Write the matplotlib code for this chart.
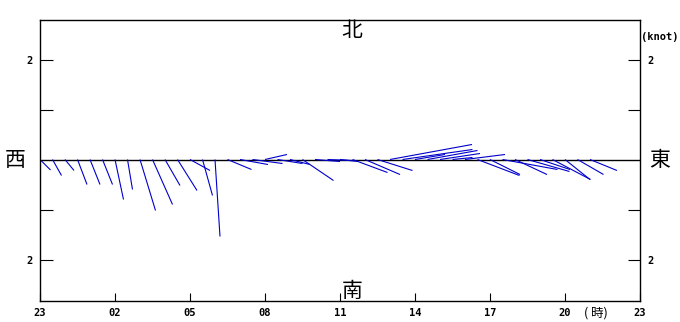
import numpy as np
import matplotlib
matplotlib.use("Agg")
import matplotlib.pyplot as plt

# 風速ベクトル (knot), 23時から30分ごと
u_east = [0.21, 0.18, 0.18, 0.19, 0.20, 0.20, 0.17, 0.10, 0.31, 0.40,
          0.30, 0.39, 0.40, 0.20, 0.10, 0.48, 0.56, 0.60, 0.44, 0.50,
          0.40, 0.62, 0.50, 0.50, 0.36, 0.70, 0.70, 0.70, 1.64, 1.40,
          0.60, 1.00, 0.80, 0.40, 0.80, 0.84, 0.60, 1.10, 0.64, 0.84,
          0.60, 0.76, 0.50, 0.52, 0.54]
v_north = [-0.21, -0.32, -0.22, -0.50, -0.50, -0.50, -0.80, -0.60, -1.02, -0.90,
           -0.52, -0.62, -0.22, -0.72, -1.54, -0.20, -0.10, -0.08, 0.10, -0.08,
           -0.10, -0.42, -0.04, -0.02, -0.04, -0.26, -0.30, -0.22, 0.30, 0.20,
           0.10, 0.18, 0.12, 0.04, 0.10, -0.32, -0.30, -0.20, -0.30, -0.24,
           -0.20, -0.40, -0.40, -0.30, -0.22]
hours = np.arange(0, 22.5, 0.5)  # 23時からの経過時間

tick_pos = [0, 3, 6, 9, 12, 15, 18, 21, 24]
tick_labels = ["23", "02", "05", "08", "11", "14", "17", "20", "23"]

W, H = 680, 322
fig = plt.figure(figsize=(W / 100, H / 100), dpi=100)
ax = fig.add_axes([40 / W, 21 / H, 600 / W, 281 / H])

xmin, xmax = 0, 24
ymin, ymax = -2.83, 2.79
ax.set_xlim(xmin, xmax)
ax.set_ylim(ymin, ymax)

# 横方向の1ノットを縦方向と同じ長さにする
px_per_hour = 600 / (xmax - xmin)
px_per_knot = 281 / (ymax - ymin)
k = px_per_knot / px_per_hour

ax.axhline(0, color="black", lw=1)
for t, u, v in zip(hours, u_east, v_north):
    ax.plot([t, t + u * k], [0, v], color="#0000cc", lw=0.8, solid_capstyle="butt")

mono = dict(family="DejaVu Sans Mono", fontweight="bold", fontsize=7.5)
cjk = ["Noto Sans CJK JP", "DejaVu Sans"]

ax.set_xticks(tick_pos)
ax.set_xticklabels(tick_labels, **mono)
ax.set_yticks([-2, -1, 1, 2])
ax.set_yticklabels(["2", "", "", "2"], **mono)
ax.tick_params(axis="both", direction="in", length=9, width=0.8, pad=5)
ax.tick_params(axis="y", right=True, labelright=True)
ax.tick_params(axis="x", length=6)
for s in ax.spines.values():
    s.set_linewidth(1)

fig.text(352 / W, 1 - 31 / H, "北", ha="center", va="center", fontsize=15, family=cjk)
fig.text(352 / W, 1 - 291 / H, "南", ha="center", va="center", fontsize=15, family=cjk)
fig.text(15 / W, 1 - 160 / H, "西", ha="center", va="center", fontsize=15, family=cjk)
fig.text(660 / W, 1 - 160 / H, "東", ha="center", va="center", fontsize=15, family=cjk)
fig.text(660 / W, 1 - 37 / H, "(knot)", ha="center", va="center", **mono)
fig.text(596 / W, 1 - 313 / H, "( 時)", ha="center", va="center", fontsize=9, family=cjk)

fig.savefig("out.png", dpi=100)
